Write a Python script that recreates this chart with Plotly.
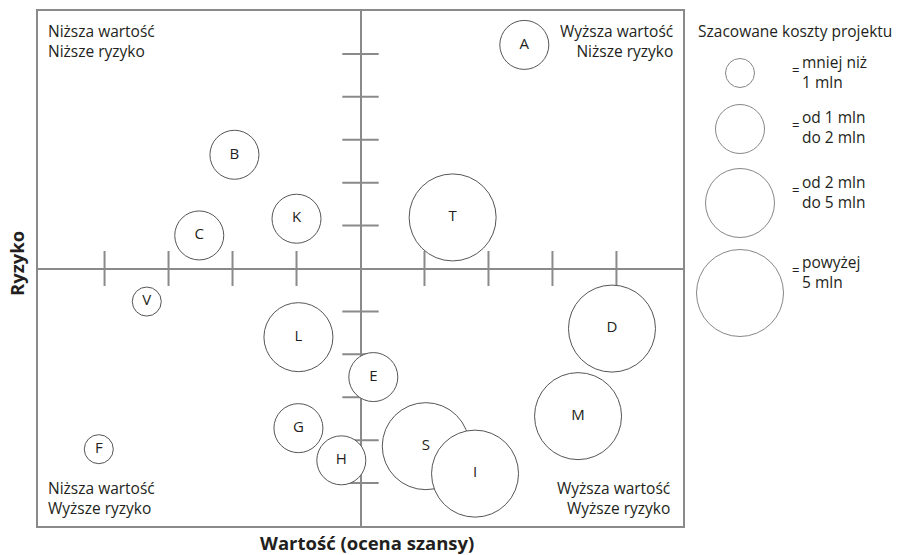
import plotly.graph_objects as go

# ---- data ----
projects = ["A", "B", "C", "K", "T", "V", "L", "G", "H", "F", "E", "S", "I", "D", "M"]
value = [2.56, -1.97, -2.52, -1.0, 1.44, -3.34, -0.97, -0.97, -0.3, -4.09, 0.2, 1.02, 1.79, 3.93, 3.4]
risk = [5.21, 2.65, 0.77, 1.16, 1.19, -0.77, -1.6, -3.72, -4.47, -4.21, -2.53, -4.14, -4.78, -1.4, -3.44]
cost_class = [2, 2, 2, 2, 4, 1, 3, 2, 2, 1, 2, 4, 4, 4, 4]

legend_labels = ["mniej niż<br>1 mln", "od 1 mln<br>do 2 mln", "od 2 mln<br>do 5 mln", "powyżej<br>5 mln"]
legend_title = "Szacowane koszty projektu"
x_ticks = [-4, -3, -2, -1, 1, 2, 3, 4]
y_ticks = [-5, -4, -3, -2, -1, 1, 2, 3, 4, 5]
quadrants = [("Niższa wartość<br>Niższe ryzyko", "tl"), ("Wyższa wartość<br>Niższe ryzyko", "tr"),
             ("Niższa wartość<br>Wyższe ryzyko", "bl"), ("Wyższa wartość<br>Wyższe ryzyko", "br")]

# ---- style ----
W, H = 898, 555
ML, MR, MT, MB = 38, 0, 11, 29
PW = W - ML - MR
PH = H - MT - MB
FRAME_R = 683
SIZE_PX = {1: 29, 2: 49, 3: 69, 4: 87}
FONT = "Open Sans"
TXT = "#231f20"
LINE = "#8a8a8a"
BUB = "#555555"
FS = 15.5


def px(x):
    return (x - ML) / PW


def py(y):
    return (H - MB - y) / PH


fig = go.Figure()

# tick marks on the central cross
fig.add_trace(go.Scatter(x=x_ticks, y=[0] * len(x_ticks), mode="markers",
                         marker=dict(symbol="line-ns", size=25, line=dict(color=LINE, width=2)),
                         hoverinfo="skip", showlegend=False))
fig.add_trace(go.Scatter(x=[0] * len(y_ticks), y=y_ticks, mode="markers",
                         marker=dict(symbol="line-ew", size=26, line=dict(color=LINE, width=2)),
                         hoverinfo="skip", showlegend=False))

# bubbles
fig.add_trace(go.Scatter(
    x=value, y=risk, text=projects, mode="markers+text", textposition="middle center",
    textfont=dict(family=FONT, size=15, color=TXT),
    marker=dict(size=[SIZE_PX[c] for c in cost_class], color="white", opacity=1,
                line=dict(color=BUB, width=1)),
    showlegend=False, cliponaxis=False))

# legend circles in second axis (pixel units)
leg_y = [73, 129, 203, 293]
fig.add_trace(go.Scatter(
    x=[740] * 4, y=leg_y, mode="markers", xaxis="x2", yaxis="y2",
    marker=dict(size=[SIZE_PX[c] for c in [1, 2, 3, 4]], color="white",
                line=dict(color=BUB, width=1)),
    showlegend=False, hoverinfo="skip", cliponaxis=False))

annotations = []
text_y = [72, 127, 192, 272]
for lbl, ty in zip(legend_labels, text_y):
    annotations.append(dict(x=800, y=ty, xref="x2", yref="y2", text=lbl, showarrow=False,
                            xanchor="left", yanchor="middle", align="left",
                            font=dict(family=FONT, size=FS, color=TXT)))
    annotations.append(dict(x=795, y=ty - 2, xref="x2", yref="y2", text="=", showarrow=False,
                            xanchor="center", yanchor="middle",
                            font=dict(family=FONT, size=13, color=TXT)))
annotations.append(dict(x=px(696), y=py(31), xref="paper", yref="paper", text=legend_title,
                        showarrow=False, xanchor="left", yanchor="middle",
                        font=dict(family=FONT, size=FS, color=TXT)))

qpos = {"tl": (46, 41, "left"), "tr": (675, 41, "right"), "bl": (46, 498, "left"), "br": (672, 498, "right")}
for txt, key in quadrants:
    qx, qy, al = qpos[key]
    annotations.append(dict(x=px(qx), y=py(qy), xref="paper", yref="paper", text=txt, showarrow=False,
                            xanchor=al, yanchor="middle", align=al,
                            font=dict(family=FONT, size=FS, color=TXT)))

annotations.append(dict(x=px(367), y=py(542), xref="paper", yref="paper", text="<b>Wartość (ocena szansy)</b>",
                        showarrow=False, xanchor="center", yanchor="middle",
                        font=dict(family=FONT, size=18.5, color=TXT)))
annotations.append(dict(x=px(16), y=py(264), xref="paper", yref="paper", text="<b>Ryzyko</b>", textangle=-90,
                        showarrow=False, xanchor="center", yanchor="middle",
                        font=dict(family=FONT, size=18.5, color=TXT)))

fig.update_layout(
    width=W, height=H, margin=dict(l=ML, r=MR, t=MT, b=MB),
    plot_bgcolor="white", paper_bgcolor="white",
    xaxis=dict(domain=[0, (FRAME_R - ML) / PW], range=[-5.04, 5.04], showgrid=False,
               zeroline=True, zerolinecolor=LINE, zerolinewidth=2,
               showline=True, mirror=True, linecolor=LINE, linewidth=2,
               showticklabels=False, ticks=""),
    yaxis=dict(range=[-6, 6], showgrid=False, zeroline=True, zerolinecolor=LINE, zerolinewidth=2,
               showline=True, mirror=True, linecolor=LINE, linewidth=2,
               showticklabels=False, ticks=""),
    xaxis2=dict(domain=[(FRAME_R - ML) / PW, 1], range=[FRAME_R, W], visible=False),
    yaxis2=dict(anchor="x2", range=[H - MB, MT], visible=False),
    annotations=annotations,
    showlegend=False,
)

fig.write_html("out.html", config={"displayModeBar": False},
               post_script="document.body.style.margin='0';document.body.style.overflow='hidden';")
